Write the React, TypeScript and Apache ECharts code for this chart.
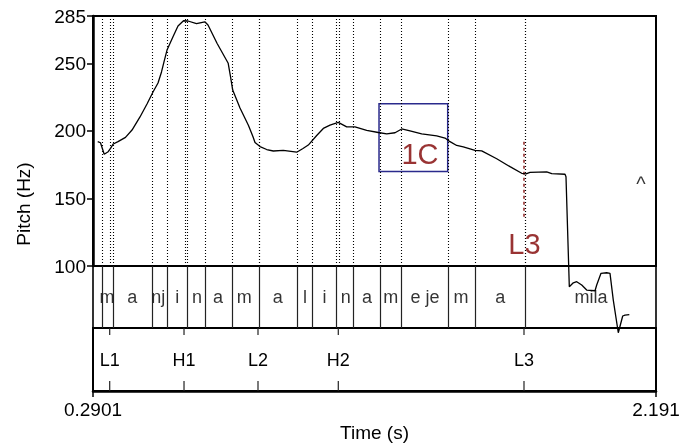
import React, { useEffect, useRef } from "react";
import * as echarts from "echarts";

// ---- axes ----
const X_MIN = 0.2901;
const X_MAX = 2.191;
const xTickLabels = ["0.2901", "2.191"];
const Y_MIN = 100;
const Y_MAX = 285;
const Y_STEP = 50;

// ---- pitch track (time s, pitch Hz) ----
const pitchTimes = [
  0.306, 0.3154, 0.3279, 0.3414, 0.3492, 0.3586, 0.3745, 0.3998, 0.4218, 0.4488,
  0.4724, 0.4927, 0.5096, 0.5214, 0.5298, 0.54, 0.5602, 0.5771, 0.5957, 0.6109,
  0.6396, 0.6676, 0.6784, 0.7088, 0.7466, 0.7544, 0.7618, 0.7864, 0.8151, 0.8303,
  0.8371, 0.854, 0.8766, 0.8989, 0.9326, 0.9779, 0.9991, 1.017, 1.0454, 1.0677,
  1.0903, 1.1183, 1.1467, 1.1747, 1.2142, 1.2534, 1.2818, 1.3098, 1.3324, 1.3604,
  1.3999, 1.4506, 1.4786, 1.4955, 1.5181, 1.5404, 1.5799, 1.6025, 1.6532, 1.6981,
  1.7376, 1.7521, 1.7656, 1.822, 1.8389, 1.8838, 1.8871, 1.8983, 1.9118, 1.9233,
  1.9402, 1.957, 1.9851, 1.9908, 2.0053, 2.0246, 2.0357, 2.0468, 2.0637, 2.0786,
  2.0863, 2.1009,
];
const pitchHz = [
  192.0, 191.2, 182.7, 184.6, 187.1, 190.3, 192.0, 195.2, 200.6, 210.3,
  219.9, 228.8, 235.4, 243.6, 251.0, 259.8, 269.7, 277.6, 281.5, 281.3,
  279.3, 280.7, 278.3, 264.8, 250.0, 240.1, 230.2, 216.9, 204.0, 195.7,
  191.4, 188.4, 186.2, 185.1, 185.5, 184.2, 187.0, 189.5, 196.6, 201.8,
  204.3, 206.3, 203.0, 202.9, 200.4, 198.8, 197.7, 198.6, 201.4, 200.0,
  197.8, 196.3, 194.7, 192.0, 189.2, 188.1, 185.6, 185.2, 179.4, 173.5,
  168.6, 168.1, 169.3, 169.6, 168.3, 167.9, 166.1, 84.7, 87.6, 88.4,
  85.9, 82.2, 81.7, 85.9, 94.6, 95.0, 94.6, 74.8, 50.6, 63.0,
  63.7, 64.0,
];

// ---- segment tier ----
const segmentBounds = [
  0.3161, 0.3586, 0.4859, 0.5356, 0.6132, 0.6693, 0.755, 0.8462, 0.9812, 1.0305,
  1.1129, 1.1747, 1.2558, 1.3344, 1.4877, 1.5775, 1.7521,
];
const segmentLabels = [
  "m", "a", "nj", "i", "n", "a", "m", "a", "l", "i", "n", "a", "m", "e je", "m", "a", "mila",
];

// ---- tone tier ----
const toneTimes = [0.3465, 0.5974, 0.8472, 1.1183, 1.7453];
const toneLabels = ["L1", "H1", "L2", "H2", "L3"];

// ---- annotations ----
const boxTimes = [1.2558, 1.4877];
const boxHz = [170, 220];
const boxText = "1C";
const boxTextPos = [1.3942, 183];
const l3Text = "L3";
const l3TextPos = [1.747, 116.3];
const l3DashTime = 1.7453;
const l3DashHz = [192, 136];
const caretText = "^";
const caretPos = [2.1403, 160.7];

const FONT = '"Liberation Sans", Arial, Helvetica, sans-serif';
const DARK_RED = "#800000";

export default function App() {
  const ref = useRef<HTMLDivElement>(null);
  useEffect(() => {
    if (!ref.current) return;
    const chart = echarts.init(ref.current, null, { renderer: "svg" });

    const segMids = segmentLabels.map((lab, i) => {
      const a = segmentBounds[i];
      const b = i + 1 < segmentBounds.length ? segmentBounds[i + 1] : X_MAX;
      return { value: [(a + b) / 2, 0.5], name: lab };
    });

    const gridCommon = { left: 93, width: 563, show: true, borderColor: "#000", borderWidth: 2, containLabel: false };
    const plainLabel = { textBorderWidth: 0, textBorderColor: "transparent", textShadowBlur: 0 };

    const option: any = {
      animation: false,
      textStyle: { fontFamily: FONT },
      grid: [
        { ...gridCommon, top: 16, height: 250 },
        { ...gridCommon, top: 266, height: 62, borderWidth: 1.6 },
        { ...gridCommon, top: 328, height: 63 },
      ],
      xAxis: [
        { type: "value", gridIndex: 0, min: X_MIN, max: X_MAX, show: false },
        { type: "value", gridIndex: 1, min: X_MIN, max: X_MAX, show: false },
        {
          type: "value",
          gridIndex: 2,
          min: X_MIN,
          max: X_MAX,
          interval: X_MAX - X_MIN,
          position: "bottom",
          axisLine: { show: true, onZero: false, lineStyle: { color: "#000", width: 2.5 } },
          axisTick: { show: true, length: 6, lineStyle: { color: "#000", width: 1.5 } },
          splitLine: { show: false },
          axisLabel: {
            show: true,
            showMinLabel: true,
            showMaxLabel: true,
            margin: 9,
            fontSize: 19,
            color: "#000",
            fontFamily: FONT,
            formatter: (v: number) =>
              Math.abs(v - X_MIN) < 1e-6 ? xTickLabels[0] : Math.abs(v - X_MAX) < 1e-6 ? xTickLabels[1] : "",
          },
          name: "Time (s)",
          nameLocation: "middle",
          nameGap: 32,
          nameTextStyle: { fontSize: 19, color: "#000", fontFamily: FONT },
        },
      ],
      yAxis: [
        {
          type: "value",
          gridIndex: 0,
          min: Y_MIN,
          max: Y_MAX,
          interval: Y_STEP,
          axisLine: { show: true, onZero: false, lineStyle: { color: "#000", width: 2.5 } },
          axisTick: { show: true, length: 6, lineStyle: { color: "#000", width: 1.5 } },
          splitLine: { show: false },
          axisLabel: {
            show: true,
            showMinLabel: true,
            showMaxLabel: true,
            margin: 7,
            fontSize: 19,
            color: "#000",
            fontFamily: FONT,
          },
        },
        { type: "value", gridIndex: 1, min: 0, max: 1, show: false },
        { type: "value", gridIndex: 2, min: 0, max: 1, show: false },
      ],
      graphic: [
        {
          type: "text",
          x: 23,
          y: 204,
          rotation: Math.PI / 2,
          style: {
            text: "Pitch (Hz)",
            fontSize: 19,
            fontFamily: FONT,
            fill: "#000",
            align: "center",
            verticalAlign: "middle",
          },
        },
      ],
      series: [
        // dotted guide lines in pitch pane + annotations
        {
          type: "scatter",
          xAxisIndex: 0,
          yAxisIndex: 0,
          symbolSize: 1,
          itemStyle: { color: "rgba(0,0,0,0)" },
          silent: true,
          data: [
            { value: boxTextPos, name: boxText },
            { value: l3TextPos, name: l3Text },
            {
              value: caretPos,
              name: caretText,
              label: { fontSize: 20, color: "#000" },
            },
          ],
          label: {
            show: true,
            position: "inside",
            formatter: "{b}",
            fontSize: 29,
            color: DARK_RED,
            fontFamily: FONT,
            ...plainLabel,
          },
          markLine: {
            silent: true,
            symbol: ["none", "none"],
            label: { show: false },
            lineStyle: { color: "#000", width: 1.1, type: [1, 2] },
            data: [
              ...segmentBounds.map((t) => ({ xAxis: t })),
              ...toneTimes.map((t) => ({ xAxis: t })),
              [
                {
                  coord: [l3DashTime, l3DashHz[0]],
                  lineStyle: { color: "#8b1a1a", width: 1.6, type: [3, 3], opacity: 0.9 },
                },
                { coord: [l3DashTime, l3DashHz[1]] },
              ],
            ],
          },
          markArea: {
            silent: true,
            itemStyle: { color: "rgba(0,0,0,0)", borderColor: "#2a2a8c", borderWidth: 1.5 },
            label: { show: false },
            data: [[{ coord: [boxTimes[0], boxHz[1]] }, { coord: [boxTimes[1], boxHz[0]] }]],
          },
        },
        // pitch curve
        {
          type: "line",
          xAxisIndex: 0,
          yAxisIndex: 0,
          clip: false,
          showSymbol: false,
          symbol: "none",
          silent: true,
          lineStyle: { color: "#000", width: 1.3 },
          data: pitchTimes.map((t, i) => [t, pitchHz[i]]),
          z: 5,
        },
        // segment tier
        {
          type: "scatter",
          xAxisIndex: 1,
          yAxisIndex: 1,
          symbolSize: 1,
          itemStyle: { color: "rgba(0,0,0,0)" },
          silent: true,
          data: segMids,
          label: {
            show: true,
            position: "inside",
            formatter: "{b}",
            fontSize: 18,
            color: "#000",
            fontFamily: FONT,
            ...plainLabel,
          },
          markLine: {
            silent: true,
            symbol: ["none", "none"],
            label: { show: false },
            lineStyle: { color: "#222", width: 1.2, type: "solid" },
            data: segmentBounds.map((t) => ({ xAxis: t })),
          },
        },
        // tone tier
        {
          type: "custom",
          xAxisIndex: 2,
          yAxisIndex: 2,
          silent: true,
          data: toneTimes.map((t, i) => [t, i]),
          renderItem: (params: any, api: any) => {
            const t = api.value(0);
            const idx = api.value(1);
            const top = api.coord([t, 1]);
            const bot = api.coord([t, 0]);
            const mid = api.coord([t, 0.5]);
            return {
              type: "group",
              children: [
                {
                  type: "line",
                  shape: { x1: top[0], y1: top[1], x2: top[0], y2: top[1] + 7 },
                  style: { stroke: "#222", lineWidth: 1.2 },
                },
                {
                  type: "line",
                  shape: { x1: bot[0], y1: bot[1] - 10, x2: bot[0], y2: bot[1] },
                  style: { stroke: "#222", lineWidth: 1.2 },
                },
                {
                  type: "text",
                  x: mid[0],
                  y: mid[1],
                  style: {
                    text: toneLabels[idx],
                    fontSize: 18,
                    fontFamily: FONT,
                    fill: "#000",
                    align: "center",
                    verticalAlign: "middle",
                  },
                },
              ],
            };
          },
        },
      ],
    };

    chart.setOption(option);
    return () => chart.dispose();
  }, []);

  return (
    <div
      ref={ref}
      style={{
        position: "fixed",
        left: 0,
        top: 0,
        width: 683,
        height: 447,
        background: "#fff",
        willChange: "transform",
      }}
    />
  );
}
